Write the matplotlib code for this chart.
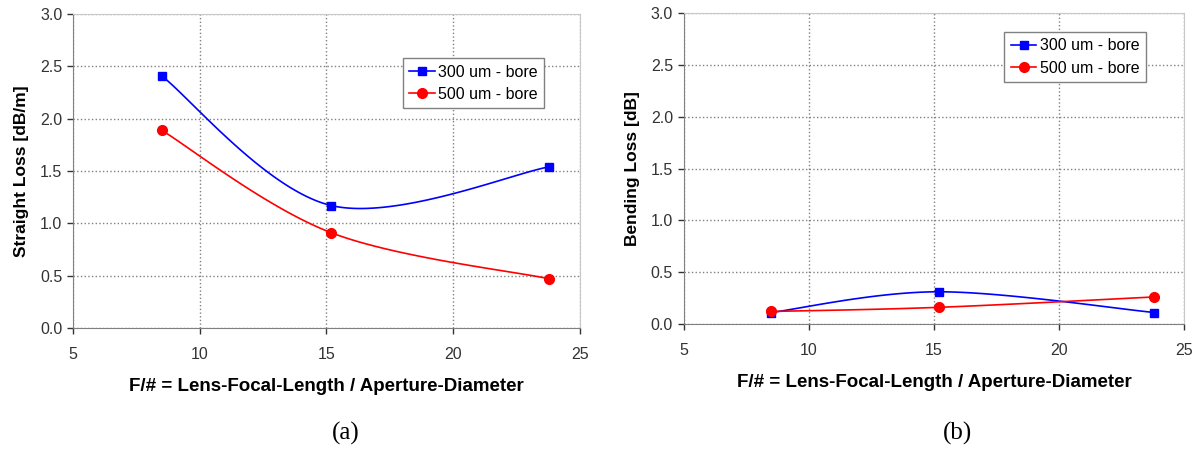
import numpy as np
import matplotlib.pyplot as plt

plt.rcParams['font.family'] = ['Liberation Sans', 'DejaVu Sans']

# F/# values (shared by both panels)
fnum = [8.5, 15.2, 23.8]

# (a) straight loss [dB/m]
straight_300 = [2.41, 1.17, 1.54]
straight_500 = [1.89, 0.91, 0.47]

# (b) bending loss [dB]
bending_300 = [0.11, 0.31, 0.11]
bending_500 = [0.12, 0.16, 0.26]

labels = ['300 um - bore', '500 um - bore']
xlabel = 'F/# = Lens-Focal-Length / Aperture-Diameter'


def smooth(x, y, n=60):
    # Excel-like smoothed line: cubic Bezier with Catmull-Rom control points
    x = np.asarray(x, float)
    y = np.asarray(y, float)
    px = np.concatenate([[x[0]], x, [x[-1]]])
    py = np.concatenate([[y[0]], y, [y[-1]]])
    xs, ys = [], []
    t = np.linspace(0, 1, n)
    for i in range(1, len(px) - 2):
        p0 = np.array([px[i], py[i]])
        p3 = np.array([px[i + 1], py[i + 1]])
        p1 = p0 + (np.array([px[i + 1], py[i + 1]]) - np.array([px[i - 1], py[i - 1]])) / 6
        p2 = p3 - (np.array([px[i + 2], py[i + 2]]) - np.array([px[i], py[i]])) / 6
        b = ((1 - t) ** 3)[:, None] * p0 + (3 * (1 - t) ** 2 * t)[:, None] * p1 \
            + (3 * (1 - t) * t ** 2)[:, None] * p2 + (t ** 3)[:, None] * p3
        xs.append(b[:, 0])
        ys.append(b[:, 1])
    return np.concatenate(xs), np.concatenate(ys)


fig = plt.figure(figsize=(11.95, 4.53), dpi=100)
ax1 = fig.add_axes([0.061, 0.276, 0.424, 0.693])
ax2 = fig.add_axes([0.572, 0.285, 0.419, 0.686])


def draw(ax, y300, y500, ylabel, legend_anchor):
    sx, sy = smooth(fnum, y300)
    ax.plot(sx, sy, color='#0000ff', lw=1.2)
    sx, sy = smooth(fnum, y500)
    ax.plot(sx, sy, color='#ff0000', lw=1.2)
    ax.plot(fnum, y300, 's', color='#0000ff', ms=6, zorder=3)
    ax.plot(fnum, y500, 'o', color='#ff0000', ms=7, zorder=3)
    # legend proxies
    h1, = ax.plot([], [], '-s', color='#0000ff', ms=6, lw=1.2)
    h2, = ax.plot([], [], '-o', color='#ff0000', ms=7, lw=1.2)
    leg = ax.legend([h1, h2], labels, loc='upper left', bbox_to_anchor=legend_anchor,
                    fontsize=11.5, fancybox=False, framealpha=1, edgecolor='#808080',
                    handlelength=1.6, handletextpad=0.2, borderpad=0.4, labelspacing=0.45)
    leg.get_frame().set_linewidth(1.0)
    ax.set_xlim(5, 25)
    ax.set_ylim(0, 3.0)
    ax.set_xticks([5, 10, 15, 20, 25])
    ax.set_yticks(np.arange(0, 3.01, 0.5))
    ax.set_yticklabels(['%.1f' % v for v in np.arange(0, 3.01, 0.5)])
    ax.grid(True, linestyle=':', color='#808080', lw=1)
    ax.set_axisbelow(True)
    for s in ['top', 'right']:
        ax.spines[s].set_color('#c8c8c8')
    for s in ['left', 'bottom']:
        ax.spines[s].set_color('#808080')
    ax.tick_params(labelsize=11.5, colors='#333333', length=4, width=1, direction='out')
    ax.tick_params(axis='x', pad=10)
    ax.set_ylabel(ylabel, fontsize=12.5, fontweight='bold', labelpad=8)
    ax.set_xlabel(xlabel, fontsize=13.5, fontweight='bold', labelpad=11)


draw(ax1, straight_300, straight_500, 'Straight Loss [dB/m]', (0.635, 0.885))
draw(ax2, bending_300, bending_500, 'Bending Loss [dB]', (0.625, 0.965))

fig.text(0.289, 0.03, '(a)', fontsize=18, family=['Liberation Serif', 'DejaVu Serif'], ha='center')
fig.text(0.801, 0.03, '(b)', fontsize=18, family=['Liberation Serif', 'DejaVu Serif'], ha='center')

fig.savefig('out.png', dpi=100)
